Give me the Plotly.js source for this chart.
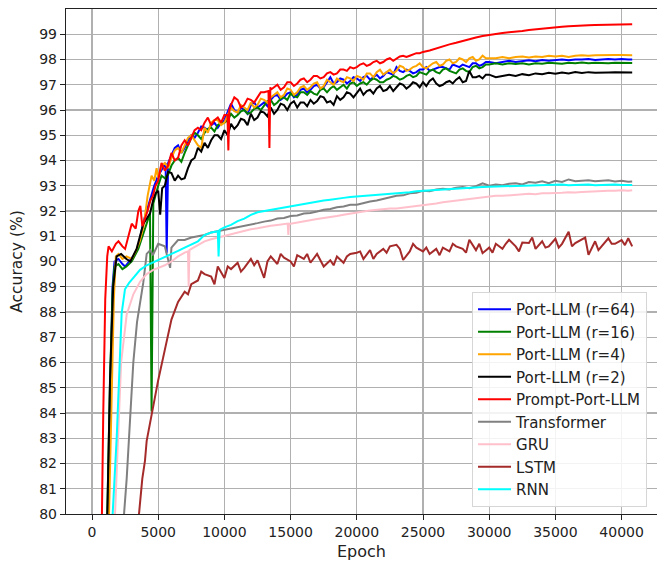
<!DOCTYPE html>
<html>
<head>
<meta charset="utf-8">
<script src="https://cdn.plot.ly/plotly-3.0.1.min.js"></script>
<style>html,body{margin:0;padding:0;background:#fff;}#chart{width:657px;height:561px;}</style>
</head>
<body>
<div id="chart"></div>
<script>
// ---------- DATA ----------
const seriesNames = ["Port-LLM (r=64)", "Port-LLM (r=16)", "Port-LLM (r=4)", "Port-LLM (r=2)",
  "Prompt-Port-LLM", "Transformer", "GRU", "LSTM", "RNN"];
const yTickVals = [80,81,82,83,84,85,86,87,88,89,90,91,92,93,94,95,96,97,98,99];
const xTickVals = [0,5000,10000,15000,20000,25000,30000,35000,40000];

const epochGrid = [5000,5500,6000,6500,7000,7500,8000,8500,9000,9500,
  10000,10500,11000,11500,12000,12500,13000,13500,14000,14500,
  15000,15500,16000,16500,17000,17500,18000,18500,19000,19500,
  20000,20500,21000,21500,22000,22500,23000,23500,24000,24500,
  25000,25500,26000,26500,27000,27500,28000,28500,29000,29500,
  30000,30500,31000,31500,32000,32500,33000,33500,34000,34500,
  35000,35500,36000,36500,37000,37500,38000,38500,39000,39500,
  40000,40500,40800];

// mid-step epochs used for the noisy part of the curves
const midEpochsA = [5250,5750,6250,6750,7250,7750,8250,8750,9250,9750,
  10250,10750,11250,11750,12250,12750,13250,13750,14250,14750,
  15250,15750,16250,16750,17250,17750,18250,18750,19250,19750,
  20250,20750,21250,21750,22250,22750,23250,23750,24250,24750,
  25250,25750,26250,26750,27250,27750,28250,28750,29250,29750];
const midEpochsB = [5750,6250,6750,7250,7750,8250,8750,9250,9750,
  10250,10750,11250,11750,12250,12750,13250,13750,14250,14750,
  15250,15750,16250,16750,17250,17750,18250,18750,19250,19750,
  20250,20750,21250,21750,22250,22750,23250,23750,24250,24750,
  25250,25750,26250,26750,27250,27750,28250,28750,29250,29750];
const midEpochsRed = [5250,5750,6250,6750,7250,7750,8250,8750,9250,9750,
  10750,11250,11750,12250,12750,
  13750,14250,14750,15250,15750,16250,16750,17250,17750,18250,18750,
  19250,19750,20250,20750,21250,21750,22250,22750,23250,23750,24250,24750];

// Port-LLM (r=64) - blue
const blueEarlyX = [0,1150,1350,1550,1700,2000,2300,2500,2800,3100,3500,3900,4300,4700];
const blueEarlyY = [50,80,85,89,90.0,90.1,89.9,89.8,90.0,90.2,90.6,91.6,92.3,93.0];
const blueGridY = [93.4,93.8,94.2,94.6,94.5,95.0,95.1,95.3,95.4,95.3,
  95.6,96.25,95.9,96.0,96.2,96.1,96.3,96.4,96.6,96.5,
  96.7,96.6,96.85,96.8,97.0,96.9,97.3,97.1,97.2,97.15,
  97.25,97.3,97.2,97.4,97.35,97.45,97.7,97.5,97.55,97.5,
  97.6,97.55,97.65,97.7,97.6,97.75,97.8,97.7,97.85,97.8,
  97.9,97.85,97.9,97.95,97.9,97.95,97.97,97.93,97.98,97.95,
  97.98,98.0,97.97,98.0,98.0,98.02,97.98,98.0,98.02,98.0,
  98.02,98.0,98.0];
const blueMidY = [93.9,94.5,94.3,94.8,94.9,95.35,95.2,95.5,95.5,
  95.9,96.0,96.1,95.85,96.3,96.2,96.15,96.55,96.4,96.65,
  96.5,96.8,96.7,96.95,96.85,97.1,97.05,97.25,97.05,97.3,
  97.15,97.35,97.3,97.25,97.5,97.4,97.55,97.6,97.45,97.6,
  97.7,97.6,97.7,97.65,97.8,97.7,97.75,97.85,97.75,97.9];
const blueExtraX = [5560,5640,5720];
const blueExtraY = [93.9,90.35,93.6];

// Port-LLM (r=16) - green
const greenEarlyX = [0,1150,1350,1550,1700,2000,2300,2600,3000,3500,4000,4380,4500,4630];
const greenEarlyY = [50,80,85,88.8,89.8,89.9,89.7,89.8,90.0,90.5,91.3,91.9,84.06,92.3];
const greenGridY = [93.0,93.3,93.8,94.1,94.3,94.9,95.0,95.1,95.3,95.4,
  95.5,95.85,95.8,96.0,95.9,96.1,96.2,96.4,96.3,96.5,
  96.65,96.5,96.7,96.75,96.6,96.85,96.85,96.8,97.0,97.05,
  96.95,97.1,97.15,97.2,97.1,97.25,97.3,97.25,97.4,97.35,
  97.45,97.55,97.5,97.6,97.55,97.45,97.65,97.5,97.75,97.7,
  97.8,97.85,97.8,97.85,97.82,97.85,97.8,97.85,97.83,97.87,
  97.85,97.83,97.87,97.85,97.88,97.85,97.87,97.86,97.85,97.87,
  97.86,97.85,97.86];
const greenMidY = [93.4,93.45,94.0,93.95,94.6,95.1,94.85,95.25,95.15,95.5,
  95.6,95.7,95.95,95.85,96.05,96.0,96.35,96.2,96.45,96.4,
  96.55,96.7,96.6,96.65,96.8,96.7,96.95,96.9,96.85,97.1,
  97.05,97.0,97.25,97.1,97.2,97.35,97.2,97.35,97.3,97.5,
  97.4,97.6,97.45,97.65,97.5,97.6,97.55,97.7,97.65,97.8];

// Port-LLM (r=4) - orange
const orangeEarlyX = [0,1250,1450,1650,1800,2000,2300,2600,3000,3300,3600,3900,4200,4500,4700,4880];
const orangeEarlyY = [50,80,84,88.5,90.2,90.3,90.1,90.2,90.1,90.4,90.8,91.4,92.6,93.4,93.2,93.7];
const orangeGridY = [93.3,93.9,94.1,94.5,94.6,95.0,94.6,95.3,95.5,95.6,
  95.5,96.1,95.9,96.1,96.3,96.2,96.4,96.5,96.7,96.6,
  96.8,96.7,96.95,96.9,97.1,96.95,97.1,97.25,97.1,97.25,
  97.35,97.2,97.45,97.5,97.4,97.6,97.55,97.7,97.6,97.75,
  97.7,97.75,97.9,97.8,98.0,97.9,98.0,98.05,97.95,98.15,
  98.05,98.05,98.1,98.05,98.1,98.12,98.08,98.12,98.1,98.15,
  98.12,98.15,98.1,98.15,98.17,98.15,98.17,98.18,98.17,98.18,
  98.18,98.17,98.17];
const orangeMidY = [93.8,93.7,94.4,94.3,94.9,94.8,94.5,95.1,95.6,95.4,
  95.8,95.95,96.2,96.0,96.1,96.45,96.3,96.6,96.5,96.85,
  96.6,96.9,96.8,97.05,96.85,97.2,97.0,97.15,97.3,97.15,
  97.3,97.45,97.3,97.6,97.5,97.45,97.75,97.55,97.7,97.85,
  97.65,97.85,97.75,97.95,97.85,98.05,97.9,98.1,98.0,98.05];

// Port-LLM (r=2) - black
const blackEarlyX = [0,1185,1360,1600,1860,2200,2600,2900,3370,3880,4380,4630,4800];
const blackEarlyY = [50,80,85.3,89.0,90.2,90.3,90.1,90.0,90.5,91.5,91.9,92.45,92.7];
const blackGridY = [92.8,93.0,93.5,93.4,93.3,94.0,94.5,94.7,94.8,95.0,
  95.2,95.45,95.4,95.6,95.85,95.7,95.9,96.1,96.0,96.2,
  96.25,96.1,96.3,96.4,96.35,96.5,96.35,96.55,96.5,96.65,
  96.7,96.6,96.8,96.85,96.75,96.95,96.9,97.0,96.95,97.05,
  97.1,97.15,97.05,97.0,97.15,97.2,97.1,97.55,97.3,97.25,
  97.4,97.3,97.35,97.4,97.35,97.42,97.38,97.45,97.42,97.47,
  97.44,97.48,97.45,97.5,97.47,97.5,97.48,97.5,97.49,97.5,
  97.5,97.5,97.49];
const blackMidY = [93.55,93.2,93.25,93.7,94.1,94.35,94.5,95.0,94.85,
  95.0,95.25,95.65,95.4,95.6,95.95,95.75,95.85,96.25,96.0,
  96.35,96.3,96.15,96.25,96.55,96.3,96.2,96.4,96.7,96.5,
  96.85,96.75,96.65,96.95,96.8,96.75,97.05,96.85,97.1,96.9,
  96.95,97.25,96.95,97.1,97.05,97.3,97.15,97.3,97.35,97.4];
const blackExtraX = [5150,5300];
const blackExtraY = [91.85,92.9];

// Prompt-Port-LLM - red
const redEarlyX = [0,700,850,1000,1150,1250,1500,1800,2000,2300,2500,2800,3000,3300,3500,3650,3800,4000,4200,4400,4600,4800];
const redEarlyY = [50,79,84,88.5,90.2,90.6,90.4,90.7,90.8,90.6,90.5,91.1,91.5,91.3,92.0,92.2,91.4,91.7,92.0,92.4,92.6,93.0];
const redGridY = [93.2,93.6,94.3,94.1,94.8,94.9,95.3,95.5,95.4,95.7,
  95.8,96.2,96.4,96.2,96.4,96.5,96.7,96.8,97.0,96.9,
  97.1,97.05,97.25,97.2,97.35,97.3,97.5,97.45,97.6,97.7,
  97.7,97.85,97.8,97.95,97.9,98.05,98.05,98.15,98.15,98.25,
  98.3,98.36,98.45,98.52,98.6,98.66,98.74,98.8,98.87,98.93,
  98.98,99.02,99.05,99.08,99.1,99.13,99.17,99.2,99.23,99.26,
  99.28,99.3,99.32,99.34,99.35,99.36,99.37,99.38,99.39,99.4,
  99.41,99.41,99.4];
const redMidY = [93.9,93.8,94.0,94.6,94.6,95.2,95.2,95.7,95.6,95.5,
  96.5,96.1,96.45,96.3,96.7,
  96.9,96.8,97.1,96.95,97.2,97.1,97.35,97.25,97.45,97.4,97.6,
  97.55,97.65,97.8,97.75,97.9,97.85,98.0,97.95,98.12,98.1,98.2,98.25];
const redExtraX = [10230,10300,10370,13330,13400,13470];
const redExtraY = [95.8,94.4,96.0,96.75,94.5,96.9];

// Transformer - gray
const grayEarlyX = [0,2420,2620,3120,3400,3630,3870,4130,4400,4600,4880];
const grayEarlyY = [40,80,81.4,86.0,87.6,88.4,89.15,90.3,90.45,90.25,90.6];
const grayGridY = [90.7,90.6,90.55,90.85,90.85,90.95,91.0,91.05,91.15,91.2,
  91.25,91.3,91.35,91.42,91.45,91.52,91.58,91.62,91.7,91.72,
  91.8,91.82,91.9,91.92,91.98,92.05,92.08,92.15,92.18,92.25,
  92.25,92.32,92.38,92.42,92.48,92.55,92.6,92.62,92.7,92.72,
  92.8,92.78,92.85,92.88,92.85,92.92,92.95,92.9,92.98,93.1,
  93.0,93.05,93.02,93.08,93.1,93.05,93.15,93.12,93.18,93.1,
  93.2,93.15,93.25,93.18,93.2,93.22,93.18,93.2,93.22,93.17,
  93.2,93.16,93.17];
const grayExtraX = [5900];
const grayExtraY = [89.75];

// GRU - pink
const pinkEarlyX = [0,1740,1990,2200,2620,3120,3630,4130,4630];
const pinkEarlyY = [40,80,83.3,86.0,87.9,88.7,89.2,89.5,89.67];
const pinkGridY = [89.75,89.85,90.0,90.2,90.35,90.5,90.65,90.8,90.88,90.95,
  91.0,91.08,91.15,91.2,91.28,91.32,91.38,91.42,91.45,91.5,
  91.5,91.55,91.6,91.65,91.68,91.72,91.75,91.8,91.85,91.9,
  91.95,91.98,92.02,92.05,92.07,92.1,92.1,92.13,92.17,92.2,
  92.24,92.28,92.3,92.35,92.38,92.42,92.45,92.48,92.5,92.55,
  92.57,92.6,92.6,92.62,92.65,92.65,92.68,92.66,92.7,92.7,
  92.7,92.72,92.74,92.73,92.75,92.77,92.76,92.78,92.8,92.8,
  92.82,92.8,92.82];
const pinkExtraX = [7250,7300,7360,14780,14830,14880];
const pinkExtraY = [90.4,89.0,90.45,91.5,91.05,91.5];

// LSTM - brown
const brownEarlyX = [0,3550,3800,4000,4130,4300,4630,4800];
const brownEarlyY = [40,80,81.4,82.1,82.9,83.4,84.3,84.8];
const brownGridY = [85.3,86.5,87.7,88.4,88.8,89.1,89.25,89.5,89.4,89.8,
  89.35,89.7,89.95,89.75,90.1,90.05,89.35,90.2,89.9,90.15,
  90.0,90.25,90.1,89.95,90.3,89.8,90.05,90.2,89.95,90.3,
  90.35,90.1,90.45,90.3,90.5,90.6,90.66,90.06,90.4,90.55,
  90.4,90.3,90.5,90.55,90.4,90.6,90.5,90.86,90.45,90.33,
  90.55,90.7,90.5,90.86,90.6,90.75,90.73,90.5,90.8,90.6,
  90.9,90.7,91.18,90.73,90.9,90.26,90.8,90.6,90.92,90.7,
  90.85,90.92,90.6];
const brownExtraX = [7250,8250,9250,10250,11250,12250,13250,14250,15250,16250,17250,18250,19250,20250,21250,22250,23250,24250,25250,26250,27250,28250,29250,30250,31250,32250,33250,34250,35250,36250,37250,38250,39250,40250];
const brownExtraY = [88.7,89.6,89.1,89.8,89.6,89.85,90.0,90.3,89.8,90.3,90.05,89.85,90.2,90.4,90.1,90.35,90.5,90.7,90.55,90.25,90.7,90.35,90.7,90.35,90.7,90.4,90.95,90.55,90.55,90.6,90.95,90.45,90.7,90.65];

// RNN - cyan
const cyanEarlyX = [0,1560,1870,2050,2240,2490,2800,3120,3630,4130,4630];
const cyanEarlyY = [40,80,83.07,85.8,87.95,88.9,89.15,89.35,89.67,89.85,89.97];
const cyanGridY = [90.05,90.15,90.3,90.42,90.55,90.68,90.8,91.05,91.15,91.2,
  91.35,91.45,91.6,91.7,91.85,91.95,92.0,92.05,92.1,92.15,
  92.2,92.25,92.3,92.33,92.38,92.42,92.45,92.5,92.52,92.55,
  92.57,92.6,92.62,92.64,92.66,92.68,92.7,92.72,92.74,92.78,
  92.8,92.82,92.84,92.86,92.88,92.9,92.9,92.92,92.94,92.95,
  92.96,92.97,92.98,92.99,93.0,93.0,93.01,93.02,93.02,93.03,
  93.03,93.05,93.02,93.04,93.03,93.05,93.02,93.04,93.03,93.05,
  93.03,93.04,93.03];
const cyanExtraX = [9560,9640];
const cyanExtraY = [90.2,91.25];

// ---------- BUILD ----------
function merge(parts) {
  const pts = [];
  parts.forEach(([xs, ys]) => xs.forEach((x, i) => pts.push([x, ys[i]])));
  pts.sort((a, b) => a[0] - b[0]);
  return {x: pts.map(p => p[0]), y: pts.map(p => p[1])};
}

const seriesData = [
  merge([[blueEarlyX, blueEarlyY], [epochGrid, blueGridY], [midEpochsB, blueMidY], [blueExtraX, blueExtraY]]),
  merge([[greenEarlyX, greenEarlyY], [epochGrid, greenGridY], [midEpochsA, greenMidY]]),
  merge([[orangeEarlyX, orangeEarlyY], [epochGrid, orangeGridY], [midEpochsA, orangeMidY]]),
  merge([[blackEarlyX, blackEarlyY], [epochGrid, blackGridY], [midEpochsB, blackMidY], [blackExtraX, blackExtraY]]),
  merge([[redEarlyX, redEarlyY], [epochGrid, redGridY], [midEpochsRed, redMidY], [redExtraX, redExtraY]]),
  merge([[grayEarlyX, grayEarlyY], [epochGrid, grayGridY], [grayExtraX, grayExtraY]]),
  merge([[pinkEarlyX, pinkEarlyY], [epochGrid, pinkGridY], [pinkExtraX, pinkExtraY]]),
  merge([[brownEarlyX, brownEarlyY], [epochGrid, brownGridY], [brownExtraX, brownExtraY]]),
  merge([[cyanEarlyX, cyanEarlyY], [epochGrid, cyanGridY], [cyanExtraX, cyanExtraY]])
];
const colors = ["#0000ff", "#008000", "#ffa500", "#000000", "#ff0000", "#808080", "#ffc0cb", "#a52a2a", "#00ffff"];

const traces = seriesData.map((d, i) => ({
  x: d.x, y: d.y, type: "scatter", mode: "lines",
  name: seriesNames[i], legendgroup: "g" + i,
  line: {color: colors[i], width: 2}
}));

const font = "DejaVu Sans, sans-serif";
const layout = {
  width: 657, height: 561,
  margin: {l: 66, r: 0, t: 9, b: 47, pad: 0},
  paper_bgcolor: "#ffffff", plot_bgcolor: "#ffffff",
  font: {family: font, size: 14, color: "#222"},
  showlegend: true,
  legend: {
    x: 0.687, y: 0.014, xanchor: "left", yanchor: "bottom",
    bgcolor: "rgba(255,255,255,0.85)", bordercolor: "#d6d6d6", borderwidth: 1,
    font: {family: font, size: 15, color: "#222"},
    itemwidth: 33, tracegroupgap: 0, traceorder: "grouped"
  },
  xaxis: {
    range: [-1964, 42674], tickvals: xTickVals, ticktext: xTickVals.map(String),
    showgrid: true, gridcolor: "#b0b0b0", gridwidth: 1.3,
    zeroline: false, showline: true, linecolor: "#222", linewidth: 1.2, mirror: true,
    ticks: "outside", ticklen: 5, tickwidth: 1, tickcolor: "#222",
    tickfont: {family: font, size: 14, color: "#222"},
    title: {text: "Epoch", font: {family: font, size: 16, color: "#222"}, standoff: 6}
  },
  yaxis: {
    range: [80, 100], tickvals: yTickVals, ticktext: yTickVals.map(String),
    showgrid: true, gridcolor: "#b0b0b0", gridwidth: 1.3,
    zeroline: false, showline: true, linecolor: "#222", linewidth: 1.2, mirror: false,
    ticks: "outside", ticklen: 5, tickwidth: 1, tickcolor: "#222",
    tickfont: {family: font, size: 14, color: "#222"},
    title: {text: "Accuracy (%)", font: {family: font, size: 15.5, color: "#222"}, standoff: 12}
  }
};

Plotly.newPlot("chart", traces, layout, {displayModeBar: false, staticPlot: true});
</script>
</body>
</html>
